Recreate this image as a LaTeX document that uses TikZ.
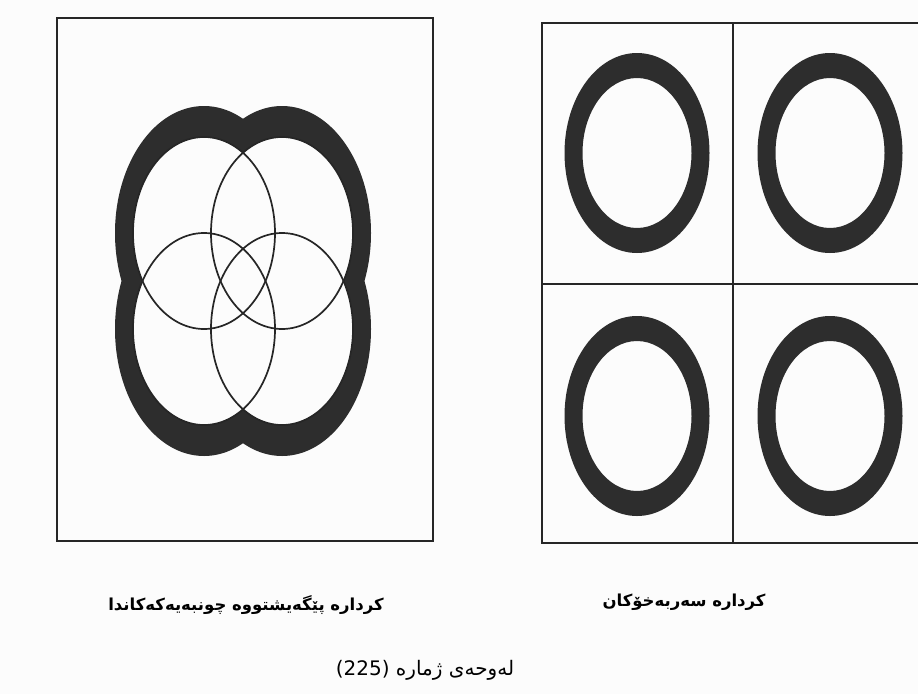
\documentclass[tikz,border=0pt]{standalone}
\usepackage{fontspec}
\usepackage{tikz}
\newfontfamily\kurdfont[Script=Arabic]{DejaVu Sans}
\TeXXeTstate=1
\definecolor{ink}{RGB}{38,38,38}
\definecolor{band}{RGB}{45,45,45}
\definecolor{paper}{RGB}{252,252,252}
\tikzset{
  frame/.style={draw=ink, line width=1.8pt},
  divider/.style={draw=ink, line width=1.4pt},
  thinring/.style={draw=ink, line width=1.7pt},
  caption/.style={font=\kurdfont\bfseries\fontsize{16.5}{20}\selectfont, text=black, inner sep=0pt},
  platelbl/.style={font=\kurdfont\fontsize{20}{24}\selectfont, text=black, inner sep=0pt}
}

\begin{document}
\begin{tikzpicture}[x=1pt, y=-1pt]
    \useasboundingbox (0,0) rectangle (918,694);
    \fill[paper] (0,0) rectangle (918,694);
    \clip (0,0) rectangle (918,694);

    % left panel: four overlapping loops
    \draw[frame] (57,18) rectangle (433,541);
    \foreach \cx/\cy in {204/233, 282/233, 204/329, 282/329}
      \fill[band] (\cx,\cy) ellipse [x radius=89pt, y radius=127pt];
    \foreach \cx/\cy in {204/233, 282/233, 204/329, 282/329}
      \fill[paper] (\cx,\cy) ellipse [x radius=71pt, y radius=96pt];
    \foreach \cx/\cy in {204/233, 282/233, 204/329, 282/329}
      \draw[thinring] (\cx,\cy) ellipse [x radius=71pt, y radius=96pt];

    % right panel: four separate rings
    \draw[frame] (542,23) rectangle (940,543);
    \draw[divider] (733,23) -- (733,543);
    \draw[divider] (542,284) -- (940,284);
    \foreach \cx/\cy in {637/153, 830/153, 637/416, 830/416}
      \fill[band, even odd rule] (\cx,\cy) ellipse [x radius=72.5pt, y radius=100pt]
                                 (\cx,\cy) ellipse [x radius=54.5pt, y radius=75pt];

    % captions
    \node[caption] (lblmixed) at (246,605) {\beginR کردارە پێگەیشتووە چونبەیەکەکاندا\endR};
    \node[caption] (lblfree) at (684,602) {\beginR کردارە سەربەخۆکان\endR};
    \node[platelbl] (plate) at (425,670) {\beginR لەوحەی ژمارە \beginL(225)\endL\endR};
\end{tikzpicture}
\end{document}
